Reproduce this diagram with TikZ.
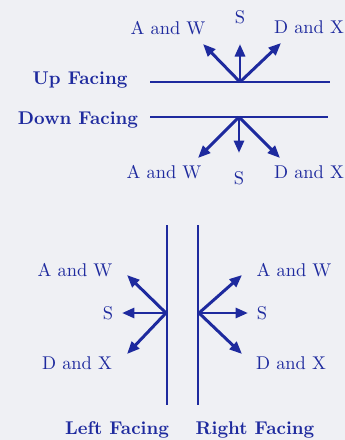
\documentclass[tikz,border=0pt]{standalone}
\usetikzlibrary{arrows.meta, positioning}
\definecolor{cink}{HTML}{1E2A9E}
\definecolor{cpaper}{HTML}{EFF0F4}
\tikzset{
  every picture/.style={line width=1.7pt},
  edge/.style={draw=cink, line width=1.7pt},
  move/.style={-{Triangle[length=2.5mm, width=2mm]}, draw=cink, line width=1.7pt},
  label/.style={text=cink, font=\fontsize{10.5}{12}\selectfont, inner sep=1pt},
  title/.style={text=cink, font=\fontsize{10.5}{12}\selectfont\bfseries, inner sep=1pt},
}

\begin{document}
\begin{tikzpicture}[x=0.02cm, y=-0.02cm]
  \fill[cpaper] (0,0) rectangle (345,440);
  \useasboundingbox (0,0) rectangle (345,440);

  % up / down facing
  \node[title] (up) at (80,80) {Up Facing};
  \node[title] (down) at (78,120) {Down Facing};
  \coordinate (upL) at (150,82);   \coordinate (upR) at (330,82);
  \coordinate (dnL) at (150,117);  \coordinate (dnR) at (328,117);
  \draw[edge] (upL) -- (upR);
  \draw[edge] (dnL) -- (dnR);
  \coordinate (uo) at (240,82);
  \coordinate (do) at (239,117);

  \node[label] (uaw) at (168,28) {A and W};
  \node[label] (us)  at (240,17) {S};
  \node[label] (udx) at (309,27) {D and X};
  \node[label] (daw) at (164,172) {A and W};
  \node[label] (ds)  at (239,178) {S};
  \node[label] (ddx) at (309,172) {D and X};

  \foreach \tip/\x/\y in {uawT/203/44, usT/240/44, udxT/281/43} {
    \coordinate (\tip) at (\x,\y);
    \draw[move] (uo) -- (\tip);
  }
  \foreach \tip/\x/\y in {dawT/198/158, dsT/239/153, ddxT/280/158} {
    \coordinate (\tip) at (\x,\y);
    \draw[move] (do) -- (\tip);
  }

  % left / right facing
  \coordinate (lT) at (167,225);  \coordinate (lB) at (167,405);
  \coordinate (rT) at (198,225);  \coordinate (rB) at (198,405);
  \draw[edge] (lT) -- (lB);
  \draw[edge] (rT) -- (rB);
  \coordinate (lo) at (166,313);
  \coordinate (ro) at (199,313);

  \node[label] (law) at (75,270) {A and W};
  \node[label] (ls)  at (108,313) {S};
  \node[label] (ldx) at (77,363) {D and X};
  \node[label] (raw) at (294,270) {A and W};
  \node[label] (rs)  at (262,313) {S};
  \node[label] (rdx) at (291,363) {D and X};

  \foreach \tip/\x/\y in {lawT/127/275, lsT/122/313, ldxT/127/354} {
    \coordinate (\tip) at (\x,\y);
    \draw[move] (lo) -- (\tip);
  }
  \foreach \tip/\x/\y in {rawT/242/275, rsT/248/313, rdxT/242/354} {
    \coordinate (\tip) at (\x,\y);
    \draw[move] (ro) -- (\tip);
  }

  \node[title] (left) at (117,430) {Left Facing};
  \node[title] (right) at (255,430) {Right Facing};
\end{tikzpicture}
\end{document}
